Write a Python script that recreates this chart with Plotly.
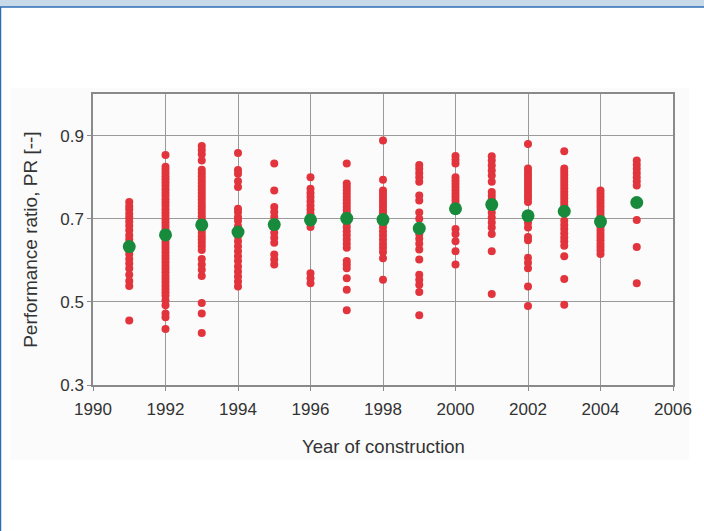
import plotly.graph_objects as go

years = [1991, 1992, 1993, 1994, 1995, 1996, 1997, 1998, 1999, 2000, 2001, 2002, 2003, 2004, 2005]

pr_1991 = [0.740, 0.730, 0.722, 0.712, 0.703, 0.693, 0.683, 0.672, 0.660, 0.650, 0.640, 0.628, 0.615, 0.603, 0.592, 0.580, 0.565, 0.550, 0.538, 0.455]
pr_1992 = [0.853, 0.825, 0.818, 0.810, 0.802, 0.795, 0.787, 0.779, 0.771, 0.763, 0.755, 0.747, 0.739, 0.731, 0.723, 0.715, 0.707, 0.699, 0.691, 0.683, 0.675, 0.667, 0.659, 0.651, 0.643, 0.635, 0.627, 0.619, 0.611, 0.603, 0.595, 0.587, 0.579, 0.571, 0.563, 0.555, 0.547, 0.539, 0.531, 0.523, 0.515, 0.504, 0.492, 0.472, 0.463, 0.435]
pr_1993 = [0.875, 0.865, 0.855, 0.840, 0.818, 0.810, 0.802, 0.794, 0.786, 0.778, 0.770, 0.762, 0.754, 0.746, 0.738, 0.730, 0.722, 0.714, 0.706, 0.698, 0.690, 0.682, 0.674, 0.666, 0.658, 0.650, 0.642, 0.634, 0.625, 0.603, 0.590, 0.577, 0.562, 0.497, 0.472, 0.425]
pr_1994 = [0.858, 0.817, 0.808, 0.790, 0.776, 0.724, 0.716, 0.704, 0.695, 0.682, 0.658, 0.646, 0.634, 0.622, 0.610, 0.598, 0.585, 0.573, 0.561, 0.549, 0.537]
pr_1995 = [0.833, 0.768, 0.728, 0.716, 0.704, 0.692, 0.679, 0.666, 0.654, 0.642, 0.614, 0.602, 0.590]
pr_1996 = [0.800, 0.772, 0.762, 0.752, 0.742, 0.732, 0.722, 0.712, 0.704, 0.690, 0.680, 0.569, 0.557, 0.545]
pr_1997 = [0.833, 0.785, 0.777, 0.769, 0.761, 0.753, 0.745, 0.737, 0.729, 0.721, 0.713, 0.705, 0.690, 0.680, 0.670, 0.660, 0.650, 0.640, 0.630, 0.598, 0.590, 0.581, 0.557, 0.529, 0.480]
pr_1998 = [0.888, 0.794, 0.768, 0.760, 0.752, 0.744, 0.736, 0.728, 0.720, 0.712, 0.704, 0.690, 0.680, 0.670, 0.660, 0.650, 0.640, 0.630, 0.620, 0.605, 0.553]
pr_1999 = [0.829, 0.820, 0.810, 0.800, 0.789, 0.756, 0.744, 0.715, 0.700, 0.663, 0.652, 0.640, 0.626, 0.602, 0.565, 0.553, 0.541, 0.524, 0.468]
pr_2000 = [0.851, 0.842, 0.833, 0.800, 0.792, 0.784, 0.776, 0.768, 0.760, 0.752, 0.744, 0.736, 0.728, 0.675, 0.663, 0.646, 0.622, 0.590]
pr_2001 = [0.850, 0.840, 0.828, 0.816, 0.804, 0.789, 0.764, 0.755, 0.746, 0.715, 0.703, 0.691, 0.679, 0.663, 0.622, 0.519]
pr_2002 = [0.880, 0.821, 0.813, 0.805, 0.797, 0.789, 0.781, 0.773, 0.765, 0.757, 0.749, 0.740, 0.690, 0.679, 0.656, 0.648, 0.606, 0.594, 0.581, 0.537, 0.490]
pr_2003 = [0.862, 0.821, 0.813, 0.805, 0.797, 0.789, 0.781, 0.773, 0.765, 0.757, 0.749, 0.741, 0.733, 0.724, 0.695, 0.685, 0.675, 0.665, 0.655, 0.646, 0.635, 0.610, 0.555, 0.493]
pr_2004 = [0.768, 0.760, 0.752, 0.744, 0.736, 0.728, 0.720, 0.712, 0.704, 0.696, 0.688, 0.680, 0.672, 0.664, 0.656, 0.648, 0.640, 0.632, 0.624, 0.615]
pr_2005 = [0.840, 0.830, 0.820, 0.810, 0.800, 0.790, 0.780, 0.697, 0.632, 0.545]

mean_pr = [0.633, 0.661, 0.685, 0.668, 0.686, 0.697, 0.701, 0.698, 0.677, 0.724, 0.734, 0.707, 0.718, 0.693, 0.739]

x_ticks = [1990, 1992, 1994, 1996, 1998, 2000, 2002, 2004, 2006]
y_ticks = [0.3, 0.5, 0.7, 0.9]
y_tick_labels = ["0.3", "0.5", "0.7", "0.9"]

x_title = "Year of construction"
y_title = "Performance ratio, PR [--]"

per_year = [pr_1991, pr_1992, pr_1993, pr_1994, pr_1995, pr_1996, pr_1997, pr_1998,
            pr_1999, pr_2000, pr_2001, pr_2002, pr_2003, pr_2004, pr_2005]

xs, ys = [], []
for yr, vals in zip(years, per_year):
    xs.extend([yr] * len(vals))
    ys.extend(vals)

FONT = "Liberation Sans, Arial, sans-serif"
TXT = "#333333"

fig = go.Figure()
fig.add_trace(go.Scatter(x=xs, y=ys, mode="markers",
                         marker=dict(color="#e2343c", size=8, line=dict(width=0)),
                         showlegend=False, hoverinfo="x+y"))
fig.add_trace(go.Scatter(x=years, y=mean_pr, mode="markers",
                         marker=dict(color="#178a3c", size=13, line=dict(width=0)),
                         showlegend=False, hoverinfo="x+y"))

# page frame
fig.add_shape(type="rect", xref="paper", yref="paper", layer="below",
              x0=-0.1595, x1=1.058, y0=-0.533, y1=1.299,
              fillcolor="white", line=dict(color="#2e6db4", width=1.5))
# very faint panel behind the chart
fig.add_shape(type="rect", xref="paper", yref="paper", layer="below",
              x0=-0.1424, x1=1.0274, y0=-0.2577, y1=1.0206,
              fillcolor="#fbfbfb", line=dict(width=0))

fig.add_annotation(text=x_title, xref="paper", yref="paper", x=0.5, y=-0.21,
                   showarrow=False, xanchor="center", yanchor="middle",
                   font=dict(family=FONT, size=18.5, color=TXT))
fig.add_annotation(text=y_title, xref="paper", yref="paper", x=-0.108, y=0.5,
                   showarrow=False, xanchor="center", yanchor="middle", textangle=-90,
                   font=dict(family=FONT, size=19, color=TXT))

axis_common = dict(showline=True, linecolor="#8a8a8a", linewidth=1.5, mirror=True,
                   showgrid=True, gridcolor="#9a9a9a", gridwidth=1, zeroline=False,
                   ticks="outside", ticklen=4, tickcolor="#8a8a8a",
                   tickfont=dict(family=FONT, size=17, color=TXT))

fig.update_layout(
    width=704, height=531, autosize=False,
    margin=dict(l=93, r=28, t=94, b=146),
    paper_bgcolor="#c8d9ea", plot_bgcolor="rgba(0,0,0,0)",
    xaxis=dict(range=[1990, 2006], tickvals=x_ticks, ticklabelstandoff=4, **axis_common),
    yaxis=dict(range=[0.3, 1.0], tickvals=y_ticks, ticktext=y_tick_labels, **axis_common),
)

fig.write_html("out.html", config={"displayModeBar": False},
               post_script="document.body.style.margin='0px';")
